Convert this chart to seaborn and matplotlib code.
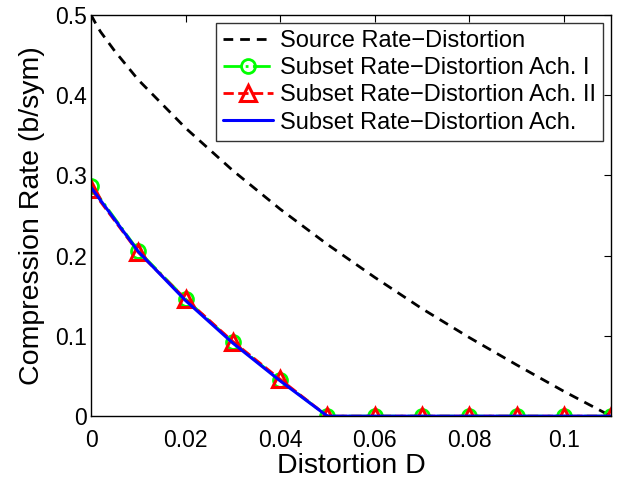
import numpy as np
import pandas as pd
import matplotlib
matplotlib.use("Agg")
import matplotlib.pyplot as plt
import seaborn as sns

# values
src_d = [0, 0.001, 0.002, 0.005, 0.01, 0.02, 0.03, 0.04, 0.05, 0.06, 0.07, 0.08, 0.09, 0.10, 0.11]
src_r = [0.5, 0.489, 0.479, 0.455, 0.419, 0.359, 0.306, 0.258, 0.214, 0.173, 0.134, 0.098, 0.064, 0.031, 0.0]

ach_d = [0, 0.01, 0.02, 0.03, 0.04, 0.05, 0.06, 0.07, 0.08, 0.09, 0.10, 0.11]
ach1_r = [0.287, 0.206, 0.146, 0.092, 0.045, 0, 0, 0, 0, 0, 0, 0]
ach2_r = [0.283, 0.204, 0.146, 0.093, 0.046, 0, 0, 0, 0, 0, 0, 0]
ach_r = [0.285, 0.205, 0.144, 0.091, 0.044, 0, 0, 0, 0, 0, 0, 0]

sns.set_style("white", {'text.color': 'black', 'axes.labelcolor': 'black',
                        'xtick.color': 'black', 'ytick.color': 'black', 'axes.edgecolor': 'black'})
plt.rcParams['font.family'] = ['Liberation Sans', 'DejaVu Sans']

fig = plt.figure(figsize=(6.28, 4.8), dpi=100)
ax = fig.add_axes([0.145, 0.133, 0.828, 0.836])

sns.lineplot(x=src_d, y=src_r, ax=ax, color='black', linestyle=(0, (3.5, 2.5)), lw=2,
             label='Source Rate\u2212Distortion')
sns.lineplot(x=ach_d, y=ach1_r, ax=ax, color='#00ff00', linestyle='-.', lw=2, marker='o',
             markersize=10, markerfacecolor='none', markeredgecolor='#00ff00', markeredgewidth=2,
             label='Subset Rate\u2212Distortion Ach. I')
sns.lineplot(x=ach_d, y=ach2_r, ax=ax, color='red', linestyle='--', lw=2, marker='^',
             markersize=11, markerfacecolor='none', markeredgecolor='red', markeredgewidth=2.2,
             label='Subset Rate\u2212Distortion Ach. II')
sns.lineplot(x=ach_d, y=ach_r, ax=ax, color='blue', linestyle='-', lw=2.2,
             label='Subset Rate\u2212Distortion Ach.')

ax.set_xlim(0, 0.11)
ax.set_ylim(0, 0.5)
ax.set_xticks([0, 0.02, 0.04, 0.06, 0.08, 0.1])
ax.set_xticklabels(['0', '0.02', '0.04', '0.06', '0.08', '0.1'])
ax.set_yticks([0, 0.1, 0.2, 0.3, 0.4, 0.5])
ax.set_yticklabels(['0', '0.1', '0.2', '0.3', '0.4', '0.5'])
ax.tick_params(direction='in', length=5, width=0.8, labelsize=16.5, top=True, right=True,
               colors='black')
ax.tick_params(axis='x', pad=9)
ax.tick_params(axis='y', pad=3)
for s in ax.spines.values():
    s.set_color('black')
    s.set_linewidth(1)

ax.set_xlabel('Distortion D', fontsize=20.5, labelpad=1, color='black')
ax.set_ylabel('Compression Rate (b/sym)', fontsize=20.5, labelpad=7, color='black')

leg = ax.legend(loc='upper right', bbox_to_anchor=(0.985, 0.98), fontsize=17, frameon=True,
                fancybox=False, edgecolor='black', handlelength=2.1, borderpad=0.3,
                labelspacing=0.22, handletextpad=0.3, borderaxespad=0)
leg.get_frame().set_linewidth(1)
for t in leg.get_texts():
    t.set_color('black')

fig.savefig('out.png', dpi=100)
